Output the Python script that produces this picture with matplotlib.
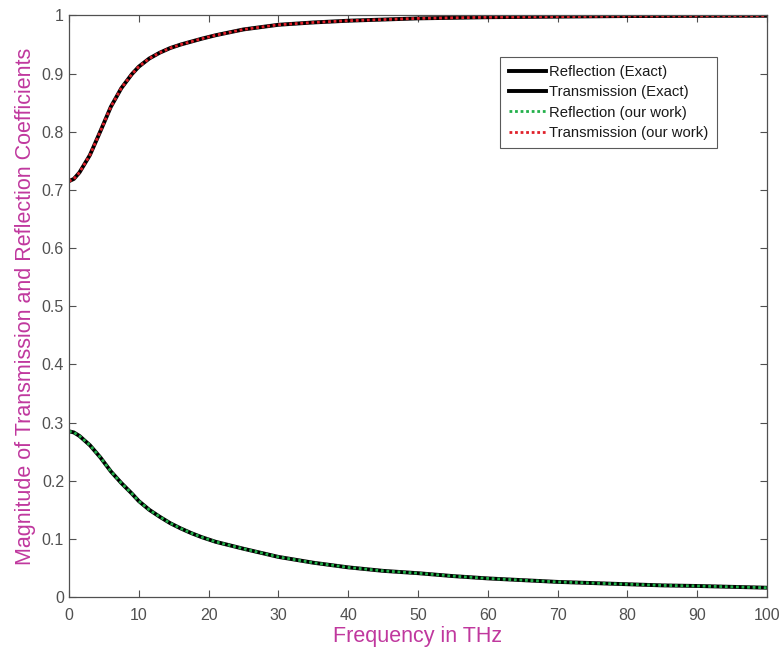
import matplotlib
matplotlib.use("Agg")
import matplotlib.pyplot as plt

freq = [0, 0.7, 1.5, 3, 4.5, 6, 7.5, 9, 10, 11.5, 13, 14.5, 16, 17.5, 19, 21, 23,
        25, 27.5, 30, 35, 40, 45, 50, 55, 60, 65, 70, 75, 80, 85, 90, 95, 100]
refl = [0.285, 0.283, 0.277, 0.261, 0.240, 0.216, 0.196, 0.178, 0.165, 0.150,
        0.138, 0.127, 0.118, 0.110, 0.103, 0.095, 0.089, 0.083, 0.076, 0.069,
        0.059, 0.051, 0.045, 0.041, 0.036, 0.032, 0.029, 0.026, 0.024, 0.022,
        0.020, 0.019, 0.0175, 0.016]
trans = [0.715, 0.719, 0.730, 0.760, 0.801, 0.843, 0.875, 0.899, 0.912, 0.926,
         0.936, 0.944, 0.950, 0.955, 0.960, 0.966, 0.971, 0.976, 0.980, 0.984,
         0.988, 0.991, 0.993, 0.995, 0.996, 0.997, 0.9975, 0.998, 0.9985, 0.999,
         0.9991, 0.9993, 0.9994, 0.9995]

xticks = [0, 10, 20, 30, 40, 50, 60, 70, 80, 90, 100]
yticks = [0, 0.1, 0.2, 0.3, 0.4, 0.5, 0.6, 0.7, 0.8, 0.9, 1]
ytick_labels = ["0", "0.1", "0.2", "0.3", "0.4", "0.5", "0.6", "0.7", "0.8", "0.9", "1"]

plt.rcParams['font.family'] = ['Liberation Sans', 'DejaVu Sans']

fig = plt.figure(figsize=(7.83, 6.56), dpi=100)
ax = fig.add_axes([0.0881, 0.0899, 0.8915, 0.8865])

gray = '#505050'
magenta = '#c0389e'

ax.plot(freq, refl, color='black', lw=2.8, label='Reflection (Exact)')
ax.plot(freq, trans, color='black', lw=2.8, label='Transmission (Exact)')
ax.plot(freq, refl, color='#22b04a', lw=2.0, ls=(0, (1, 1)), label='Reflection (our work)')
ax.plot(freq, trans, color='#e0202a', lw=2.0, ls=(0, (1, 1)), label='Transmission (our work)')

ax.set_xlim(0, 100)
ax.set_ylim(0, 1)
ax.set_xticks(xticks)
ax.set_yticks(yticks)
ax.set_yticklabels(ytick_labels)
ax.tick_params(direction='in', top=True, right=True, length=5, width=0.8,
               colors=gray, labelsize=11.5, labelcolor=gray)
ax.tick_params(axis='x', pad=8)
for s in ax.spines.values():
    s.set_color(gray)
    s.set_linewidth(0.9)

ax.set_xlabel('Frequency in THz', color=magenta, fontsize=15.5, labelpad=2)
ax.set_ylabel('Magnitude of Transmission and Reflection Coefficients', color=magenta,
              fontsize=15.5, labelpad=4)

leg = ax.legend(loc='upper left', bbox_to_anchor=(0.618, 0.9286), fontsize=10.7,
                frameon=True, fancybox=False, edgecolor='#303030', handlelength=2.5,
                handletextpad=0.25, borderpad=0.55, labelspacing=0.42, borderaxespad=0)
leg.get_frame().set_linewidth(0.8)
for t in leg.get_texts():
    t.set_color('#1a1a1a')

fig.savefig('out.png', dpi=100)
